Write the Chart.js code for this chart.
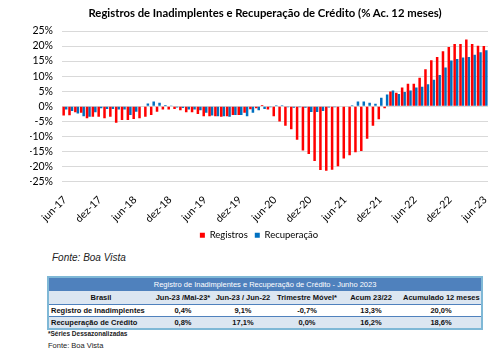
<!DOCTYPE html>
<html><head><meta charset="utf-8">
<script src="https://cdn.jsdelivr.net/npm/chart.js@4.4.0/dist/chart.umd.min.js"></script>
<style>
html,body{margin:0;padding:0;background:#fff;width:500px;height:357px;overflow:hidden;font-family:"Liberation Sans",Arial,sans-serif;}
#title{position:absolute;left:0;top:6px;width:530px;text-align:center;font:bold 11.3px Lato,sans-serif;color:#000;white-space:nowrap;}
#wrap{position:absolute;left:0;top:0;width:500px;height:250px;}
#fonte1{position:absolute;left:52px;top:252px;font:italic 10px "Liberation Sans",Arial,sans-serif;color:#222;}
#tbl{position:absolute;left:47px;top:276px;width:434px;border-collapse:collapse;table-layout:fixed;border:2px solid #7fb8d6;font:bold 7.5px "Liberation Sans",Arial,sans-serif;color:#111;}
#tbl td{padding:0 2px;white-space:nowrap;overflow:hidden;text-align:center;}
#tbl tr.h td{background:#4f81bd;color:#fff;font-weight:normal;height:13px;}
#tbl tr.c td{background:#dce6f1;height:13px;border-bottom:1px solid #4f81bd;}
#tbl tr.r1 td{background:#fff;height:11px;border-bottom:1px solid #4f81bd;}
#tbl tr.r2 td{background:#dce6f1;height:11px;}
#tbl td.lbl{text-align:left;}
#note{position:absolute;left:48px;top:330px;font:bold 6.5px "Liberation Sans",Arial,sans-serif;color:#222;}
#fonte2{position:absolute;left:48px;top:341px;font:7.5px "Liberation Sans",Arial,sans-serif;color:#222;}
</style></head>
<body>
<div id="wrap"><canvas id="c" width="500" height="250"></canvas></div>
<div id="title">Registros de Inadimplentes e Recuperação de Crédito (% Ac. 12 meses)</div>
<div id="fonte1">Fonte: Boa Vista</div>
<table id="tbl"></table>
<div id="note">*Séries Dessazonalizadas</div>
<div id="fonte2">Fonte: Boa Vista</div>
<script>
const months = [
 "jun-17","jul-17","ago-17","set-17","out-17","nov-17","dez-17","jan-18","fev-18","mar-18","abr-18","mai-18",
 "jun-18","jul-18","ago-18","set-18","out-18","nov-18","dez-18","jan-19","fev-19","mar-19","abr-19","mai-19",
 "jun-19","jul-19","ago-19","set-19","out-19","nov-19","dez-19","jan-20","fev-20","mar-20","abr-20","mai-20",
 "jun-20","jul-20","ago-20","set-20","out-20","nov-20","dez-20","jan-21","fev-21","mar-21","abr-21","mai-21",
 "jun-21","jul-21","ago-21","set-21","out-21","nov-21","dez-21","jan-22","fev-22","mar-22","abr-22","mai-22",
 "jun-22","jul-22","ago-22","set-22","out-22","nov-22","dez-22","jan-23","fev-23","mar-23","abr-23","mai-23",
 "jun-23"];
const registros = [
 -3.1,-3.0,-2.0,-2.2,-4.0,-3.5,-3.5,-4.0,-3.5,-5.5,-4.6,-4.6,
 -4.2,-4.0,-3.5,-2.9,-1.8,-1.1,-1.1,-0.9,-1.3,-2.0,-2.0,-2.6,
 -3.3,-3.3,-3.3,-3.5,-3.3,-2.9,-2.9,-2.2,-1.0,-0.7,0.4,-1.1,
 -3.3,-5.1,-6.5,-7.6,-11.1,-14.7,-15.9,-18.2,-21.2,-21.4,-21.1,-19.9,
 -17.4,-16.3,-15.3,-14.9,-10.8,-6.5,-4.3,-0.7,4.9,4.5,6.2,7.5,
 7.5,9.5,12.3,15.3,16.4,18.3,19.7,20.7,20.7,22.2,20.7,20.1,
 20.0];
const recuperacao = [
 -1.1,-1.6,-2.4,-3.3,-3.5,-2.0,-0.7,-0.9,-0.9,-1.1,-1.1,-2.9,
 -1.8,-0.2,0.9,1.6,1.2,0.4,0.1,-0.4,-0.6,-1.1,-1.1,-1.3,
 -2.2,-3.1,-3.3,-3.3,-3.5,-2.9,-2.9,-3.3,-2.2,-1.3,-0.9,-0.3,
 0.3,0.3,-0.3,-0.5,-0.3,-0.5,-1.9,-1.9,-1.6,-0.4,-0.3,-0.2,
 -0.2,0.3,1.6,1.6,1.2,0.8,2.8,3.9,5.2,4.1,4.7,5.2,
 6.2,6.5,7.3,8.8,10.4,12.9,15.2,15.7,16.2,16.4,17.1,17.9,
 18.6];
const seriesNames = ["Registros","Recuperação"];

// table data
const tableTitle = "Registro de Inadimplentes e Recuperação de Crédito - Junho 2023";
const tableCols = ["Brasil","Jun-23 /Mai-23*","Jun-23 / Jun-22","Trimestre Móvel*","Acum 23/22","Acumulado 12 meses"];
const rowRegistros = ["Registro de Inadimplentes","0,4%","9,1%","-0,7%","13,3%","20,0%"];
const rowRecuperacao = ["Recuperação de Crédito","0,8%","17,1%","0,0%","16,2%","18,6%"];
const colWidths = [105,60,60,68,60,81];

(function buildTable(){
  const t = document.getElementById('tbl');
  let html = '<colgroup>' + colWidths.map(w=>'<col style="width:'+w+'px">').join('') + '</colgroup>';
  html += '<tr class="h"><td colspan="6">'+tableTitle+'</td></tr>';
  html += '<tr class="c">' + tableCols.map(c=>'<td>'+c+'</td>').join('') + '</tr>';
  html += '<tr class="r1">' + rowRegistros.map((c,i)=>'<td'+(i===0?' class="lbl"':'')+'>'+c+'</td>').join('') + '</tr>';
  html += '<tr class="r2">' + rowRecuperacao.map((c,i)=>'<td'+(i===0?' class="lbl"':'')+'>'+c+'</td>').join('') + '</tr>';
  t.innerHTML = html;
})();

const font = {family:"Lato, sans-serif", size:10.5};
new Chart(document.getElementById('c'), {
  type:'bar',
  data:{
    labels: months,
    datasets:[
      {label:seriesNames[0], data:registros, backgroundColor:'#ff0000', categoryPercentage:0.86, barPercentage:1.0},
      {label:seriesNames[1], data:recuperacao, backgroundColor:'#0070c0', categoryPercentage:0.86, barPercentage:1.0}
    ]
  },
  options:{
    responsive:false, animation:false,
    layout:{padding:{left:30,right:12,top:31,bottom:0}},
    plugins:{
      legend:{position:'bottom', labels:{boxWidth:5, boxHeight:5, padding:7, color:'#000', font:{family:"Lato, sans-serif", size:9.5}}},
      title:{display:false}, tooltip:{enabled:false}
    },
    scales:{
      x:{
        grid:{display:false}, border:{display:false},
        ticks:{autoSkip:false, maxRotation:45, minRotation:45, padding:4, color:'#000', font:font,
          callback:function(v,i){ return i%6===0 ? months[i] : ''; }},
        afterFit:function(s){ s.height = 42; }
      },
      y:{
        min:-25, max:25,
        grid:{color:'#d9d9d9', drawTicks:false}, border:{display:false},
        ticks:{stepSize:5, autoSkip:false, padding:9, color:'#000', font:font, callback:v=>v+'%'},
        afterFit:function(s){ s.width = 32; }
      }
    }
  }
});
</script>
</body></html>
